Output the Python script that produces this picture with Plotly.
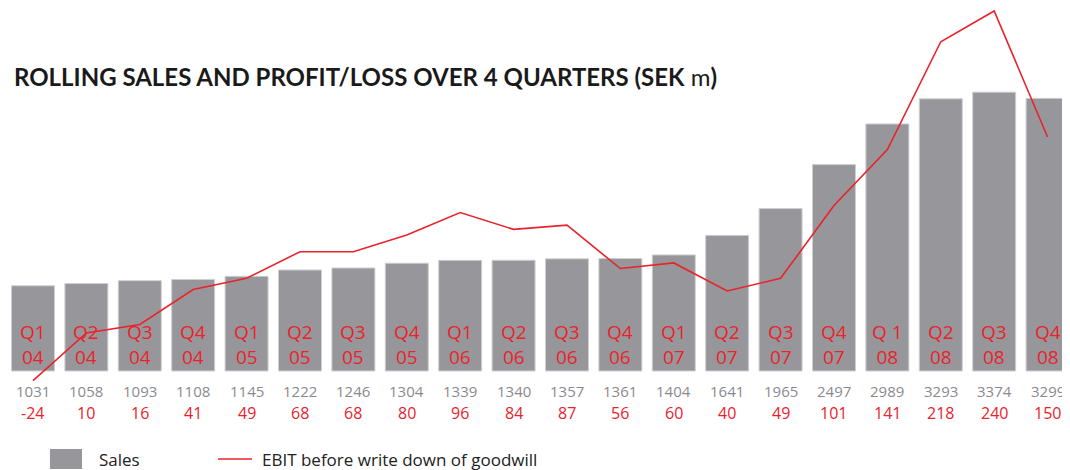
import plotly.graph_objects as go

quarters = ["Q1", "Q2", "Q3", "Q4", "Q1", "Q2", "Q3", "Q4", "Q1", "Q2",
            "Q3", "Q4", "Q1", "Q2", "Q3", "Q4", "Q 1", "Q2", "Q3", "Q4"]
years = ["04", "04", "04", "04", "05", "05", "05", "05", "06", "06",
         "06", "06", "07", "07", "07", "07", "08", "08", "08", "08"]
sales = [1031, 1058, 1093, 1108, 1145, 1222, 1246, 1304, 1339, 1340,
         1357, 1361, 1404, 1641, 1965, 2497, 2989, 3293, 3374, 3299]
ebit = [-24, 10, 16, 41, 49, 68, 68, 80, 96, 84,
        87, 56, 60, 40, 49, 101, 141, 218, 240, 150]

RED = "#e8232b"
GREY = "#97979b"
FONT = "Open Sans"

x = list(range(len(sales)))

fig = go.Figure()
fig.add_trace(go.Bar(x=x, y=sales, marker=dict(color=GREY, line=dict(color="#cfcfd2", width=1)),
                     showlegend=False, hoverinfo="skip"))
fig.add_trace(go.Scatter(x=x, y=ebit, yaxis="y2", mode="lines",
                         line=dict(color=RED, width=1.6), showlegend=False, hoverinfo="skip"))

ann = []
for i in x:
    ann.append(dict(x=i, y=0.2706, xref="x", yref="paper", text=f"{quarters[i]}<br>{years[i]}",
                    showarrow=False, font=dict(family=FONT, size=19, color=RED),
                    xanchor="center", yanchor="middle"))
    ann.append(dict(x=i, y=0.171, xref="x", yref="paper", text=str(sales[i]),
                    showarrow=False, font=dict(family=FONT, size=15, color="#8a8a8e"),
                    xanchor="center", yanchor="middle"))
    ann.append(dict(x=i, y=0.1234, xref="x", yref="paper", text=str(ebit[i]),
                    showarrow=False, font=dict(family=FONT, size=16, color=RED),
                    xanchor="center", yanchor="middle"))

ann.append(dict(x=0.00377, y=0.8528, xref="paper", yref="paper",
                text="<b>ROLLING SALES AND PROFIT/LOSS OVER 4 QUARTERS (SEK</b> m<b>)</b>",
                showarrow=False, font=dict(family="Lato", size=24, color="#1a1a1a"),
                xanchor="left", yanchor="middle"))
ann.append(dict(x=0.0838, y=0.0238, xref="paper", yref="paper", text="Sales",
                showarrow=False, font=dict(family=FONT, size=17, color="#222"),
                xanchor="left", yanchor="middle"))
ann.append(dict(x=0.2373, y=0.0238, xref="paper", yref="paper",
                text="EBIT before write down of goodwill",
                showarrow=False, font=dict(family=FONT, size=17, color="#222"),
                xanchor="left", yanchor="middle"))

shapes = [
    dict(type="rect", xref="paper", yref="paper", x0=0.0395, x1=0.0697, y0=0.0022, y1=0.0455,
         fillcolor=GREY, line=dict(width=0)),
    dict(type="line", xref="paper", yref="paper", x0=0.1977, x1=0.2298, y0=0.0238, y1=0.0238,
         line=dict(color=RED, width=1.6)),
]

fig.update_layout(
    width=1062, height=462,
    margin=dict(l=0, r=0, t=0, b=0),
    paper_bgcolor="white", plot_bgcolor="white",
    bargap=0.195,
    xaxis=dict(range=[-0.468, 19.42], showticklabels=False, showgrid=False, zeroline=False,
               showline=False),
    yaxis=dict(range=[-1198, 4392], showticklabels=False, showgrid=False, zeroline=False,
               showline=False),
    yaxis2=dict(range=[-87.9, 242.1], overlaying="y", showticklabels=False, showgrid=False,
                zeroline=False, showline=False),
    annotations=ann, shapes=shapes,
)

fig.write_html("out.html")
